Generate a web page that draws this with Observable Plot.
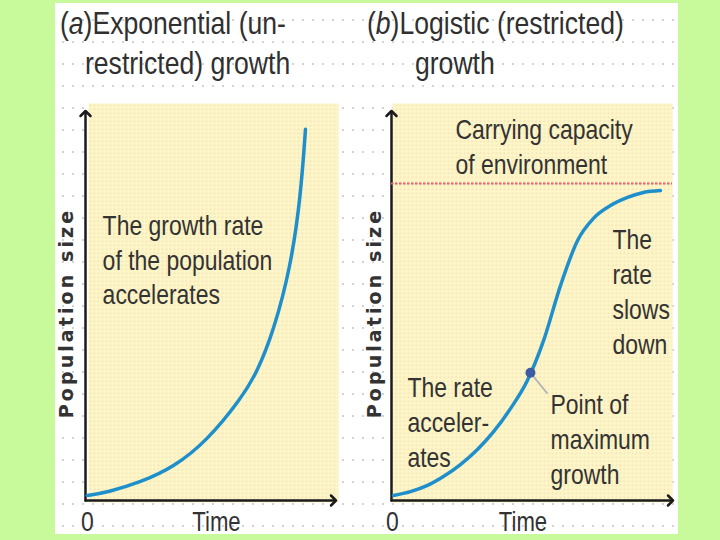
<!DOCTYPE html>
<html>
<head>
<meta charset="utf-8">
<script src="https://cdn.jsdelivr.net/npm/d3@7"></script>
<script src="https://cdn.jsdelivr.net/npm/@observablehq/plot@0.6"></script>
<style>
  html, body { margin: 0; padding: 0; }
  body { width: 720px; height: 540px; background: #c8f99a; position: relative; overflow: hidden; }
  #sheet { position: absolute; left: 55px; top: 3px; width: 623px; height: 531px; background-color: #fff;
    background-image: radial-gradient(circle, #d2d2d2 0.9px, transparent 1.3px);
    background-size: 10px 22px; background-position: 3px 6px; }
  .title { position: absolute; font-family: "Liberation Sans", Arial, sans-serif;
    font-size: 32px; line-height: 40px; color: #303030; white-space: nowrap;
    transform: scaleX(0.83); transform-origin: 0 50%; }
  .title i { font-style: italic; }
  .panel { position: absolute; }
</style>
</head>
<body>
<div id="sheet"></div>
<div class="title" style="left:60px; top:3px;">(<i>a</i>)Exponential (un-</div>
<div class="title" style="left:85px; top:43px;">restricted) growth</div>
<div class="title" style="left:367px; top:3px;">(<i>b</i>)Logistic (restricted)</div>
<div class="title" style="left:415px; top:43px;">growth</div>
<div id="pa" class="panel" style="left:40px; top:95px;"></div>
<div id="pb" class="panel" style="left:350px; top:95px;"></div>
<script>
// ---- data ----
const xDomain = [0, 10];
const yDomain = [0, 100];
const xTicks = [0];
const xLabel = "Time";
const yLabel = "Population size";

const expTime = [0.07, 0.88, 2.22, 3.56, 4.91, 6.25, 6.92, 7.59, 8.27, 8.67, 8.87];
const expSize = [1.3, 2.1, 4.7, 8.6, 15.5, 26.1, 33.1, 43.9, 60.3, 78.1, 95.9];

const logTime = [0.07, 0.68, 1.29, 1.86, 2.47, 3.08, 3.66, 4.27, 4.87, 5.45, 6.06, 6.67, 7.24, 7.85, 8.46, 9.03, 9.64];
const logSize = [1.3, 2.3, 3.9, 6.2, 9.3, 13.2, 17.8, 23.8, 31.0, 41.3, 55.6, 67.2, 72.9, 76.2, 78.3, 79.6, 80.1];

const carryingCapacity = [81.9];
const inflectionTime = [4.98];
const inflectionSize = [33.0];
const leaderEndTime = [5.59];
const leaderEndSize = [27.6];

const notesA = ["The growth rate\nof the population\naccelerates"];
const notesATime = [0.69];
const notesASize = [62.5];

const notesB = ["Carrying capacity\nof environment", "The\nrate\nslows\ndown", "The rate\nacceler-\nates", "Point of\nmaximum\ngrowth"];
const notesBTime = [2.29, 7.92, 0.57, 5.70];
const notesBSize = [91.7, 54.3, 20.7, 16.3];

// ---- build tables ----
const expData = expTime.map((t, i) => ({t, s: expSize[i]}));
const logData = logTime.map((t, i) => ({t, s: logSize[i]}));
const yAxisLine = [{t: xDomain[0], s: yDomain[0]}, {t: xDomain[0], s: yDomain[1]}];
const xAxisLine = [{t: xDomain[0], s: yDomain[0]}, {t: xDomain[1], s: yDomain[0]}];
const notesAData = notesA.map((text, i) => ({text, t: notesATime[i], s: notesASize[i]}));
const notesBData = notesB.map((text, i) => ({text, t: notesBTime[i], s: notesBSize[i]}));
const inflection = inflectionTime.map((t, i) => ({t, s: inflectionSize[i], t2: leaderEndTime[i], s2: leaderEndSize[i]}));

const SANS = '"Liberation Sans", Arial, sans-serif';
const INK = "#333";
const BLUE = "#1f8fcb";

function finish(svg, id) {
  const defs = d3.select(svg).insert("defs", ":first-child");
  const p = defs.append("pattern").attr("id", id).attr("patternUnits", "userSpaceOnUse")
    .attr("width", 4).attr("height", 4);
  p.append("rect").attr("width", 4).attr("height", 4).attr("fill", "#fdf6c6");
  p.append("rect").attr("x", 1).attr("y", 1).attr("width", 1.6).attr("height", 1.6).attr("fill", "#f3dcb9");
  d3.select(svg).selectAll("text").each(function () {
    if (this.textContent === yLabel) {
      this.style.letterSpacing = "3.1px";
    } else {
      const t = this.getAttribute("transform") || "";
      this.setAttribute("transform", t + " scale(0.82,1)");
    }
  });
}

function commonMarks(patternId, insets, yLabelDx, timeDx, zeroDx) {
  return [
    Plot.frame({fill: `url(#${patternId})`, stroke: null, ...insets}),
    Plot.line(yAxisLine, {x: "t", y: "s", stroke: "#1b1b1b", strokeWidth: 2.5, markerEnd: "arrow"}),
    Plot.line(xAxisLine, {x: "t", y: "s", stroke: "#1b1b1b", strokeWidth: 2.5, markerEnd: "arrow"}),
    Plot.text(xTicks, {x: d => d, y: () => yDomain[0], dy: 22, dx: zeroDx, lineAnchor: "middle",
      fontSize: 28, fill: INK, fontFamily: SANS}),
    Plot.text([xLabel], {frameAnchor: "bottom", lineAnchor: "middle", dy: 22, dx: timeDx, fontSize: 27,
      fill: INK, fontFamily: SANS}),
    Plot.text([yLabel], {frameAnchor: "left", textAnchor: "middle", lineAnchor: "middle", rotate: -90,
      dx: yLabelDx, dy: 6, fontSize: 19, fontWeight: "bold", fill: "#333",
      fontFamily: '"DejaVu Sans", sans-serif'})
  ];
}

const plotA = Plot.plot({
  width: 305, height: 440,
  marginLeft: 45, marginRight: 12, marginTop: 18, marginBottom: 35,
  x: {domain: xDomain, axis: null},
  y: {domain: yDomain, axis: null},
  style: {background: "transparent", overflow: "visible"},
  marks: [
    ...commonMarks("dotsA", {insetLeft: 3, insetRight: -5, insetTop: -10, insetBottom: -2}, -19, 7, 2),
    Plot.line(expData, {x: "t", y: "s", stroke: BLUE, strokeWidth: 3.5, curve: "basis"}),
    Plot.text(notesAData, {x: "t", y: "s", text: "text", textAnchor: "start", lineAnchor: "middle",
      lineHeight: 1.23, fontSize: 28, fill: INK, fontFamily: SANS})
  ]
});
finish(plotA, "dotsA");
document.getElementById("pa").appendChild(plotA);

const plotB = Plot.plot({
  width: 330, height: 440,
  marginLeft: 41, marginRight: 10, marginTop: 18, marginBottom: 35,
  x: {domain: xDomain, axis: null},
  y: {domain: yDomain, axis: null},
  style: {background: "transparent", overflow: "visible"},
  marks: [
    ...commonMarks("dotsB", {insetLeft: 1, insetRight: -2, insetTop: -10, insetBottom: -2}, -17, -8, 1),
    Plot.ruleY(carryingCapacity, {stroke: "#e2606a", strokeWidth: 2, strokeDasharray: "2.5,1.5", insetRight: -2}),
    Plot.line(logData, {x: "t", y: "s", stroke: BLUE, strokeWidth: 3.5, curve: "monotone-x"}),
    Plot.link(inflection, {x1: "t", y1: "s", x2: "t2", y2: "s2", stroke: "#b5b5b5", strokeWidth: 1.8}),
    Plot.dot(inflection, {x: "t", y: "s", r: 5, fill: "#3d5ca6", stroke: null}),
    Plot.text(notesBData, {x: "t", y: "s", text: "text", textAnchor: "start", lineAnchor: "middle",
      lineHeight: 1.25, fontSize: 28, fill: INK, fontFamily: SANS})
  ]
});
finish(plotB, "dotsB");
document.getElementById("pb").appendChild(plotB);
</script>
</body>
</html>
